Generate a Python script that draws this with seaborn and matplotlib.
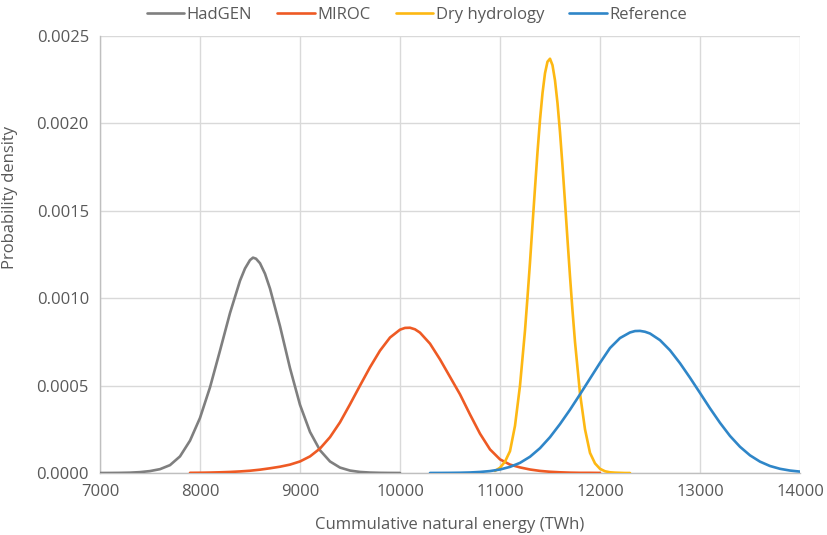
import numpy as np
import pandas as pd
import matplotlib
matplotlib.use("Agg")
import matplotlib.pyplot as plt
from matplotlib.lines import Line2D
import seaborn as sns

# ---- data ----
series_names = ["HadGEN", "MIROC", "Dry hydrology", "Reference"]

hadgen_x = [7000, 7100, 7200, 7300, 7400, 7500, 7600, 7700, 7800, 7900, 8000,
            8100, 8200, 8300, 8400, 8450, 8500, 8530, 8560, 8600, 8650, 8700,
            8800, 8900, 9000, 9100, 9200, 9300, 9400, 9500, 9600, 9700, 9800,
            9900, 10000]
hadgen_y = [0.0, 0.0000003, 0.0000008, 0.000002, 0.000005, 0.000011, 0.000022,
            0.000045, 0.000095, 0.000185, 0.000315, 0.000490, 0.000700, 0.000915,
            0.001100, 0.001170, 0.001218, 0.001232, 0.001226, 0.001200, 0.001140,
            0.001055, 0.000840, 0.000600, 0.000390, 0.000235, 0.000130, 0.000066,
            0.000031, 0.000014, 0.000006, 0.0000025, 0.000001, 0.0000004,
            0.0000002]

miroc_x = [7900, 8000, 8100, 8200, 8300, 8400, 8500, 8600, 8700, 8800, 8900,
           9000, 9100, 9200, 9300, 9400, 9500, 9600, 9700, 9800, 9900, 10000,
           10050, 10100, 10150, 10200, 10300, 10400, 10500, 10600, 10700, 10800,
           10900, 11000, 11100, 11200, 11300, 11400, 11500, 11600, 11700, 11800,
           11900, 12000]
miroc_y = [0.000001, 0.0000015, 0.0000025, 0.000004, 0.000006, 0.000009, 0.000013,
           0.000019, 0.000027, 0.000036, 0.000048, 0.000066, 0.000095, 0.000140,
           0.000205, 0.000290, 0.000393, 0.000500, 0.000605, 0.000700, 0.000775,
           0.000820, 0.000830, 0.000831, 0.000822, 0.000803, 0.000740, 0.000650,
           0.000550, 0.000450, 0.000335, 0.000225, 0.000135, 0.000078, 0.000048,
           0.000032, 0.000020, 0.000012, 0.000007, 0.000004, 0.000002, 0.000001,
           0.000001, 0.0000005]

dry_x = [10950, 11000, 11050, 11100, 11150, 11200, 11250, 11275, 11300, 11325,
         11350, 11375, 11400, 11425, 11450, 11475, 11500, 11525, 11550, 11575,
         11600, 11625, 11650, 11675, 11700, 11725, 11750, 11800, 11850, 11900,
         11950, 12000, 12050, 12100, 12150, 12200, 12250, 12300]
dry_y = [0.000012, 0.000030, 0.000065, 0.000125, 0.000270, 0.000500, 0.000815,
         0.001006, 0.001205, 0.001420, 0.001630, 0.001836, 0.002020, 0.002173,
         0.002287, 0.002353, 0.002370, 0.002333, 0.002246, 0.002116, 0.001950,
         0.001757, 0.001550, 0.001335, 0.001125, 0.000929, 0.000750, 0.000455,
         0.000250, 0.000115, 0.000055, 0.000024, 0.000010, 0.000004, 0.000002,
         0.000001, 0.0, 0.0]

ref_x = [10300, 10400, 10500, 10600, 10700, 10800, 10900, 11000, 11100, 11200,
         11300, 11400, 11500, 11600, 11700, 11800, 11900, 12000, 12100, 12200,
         12300, 12350, 12400, 12450, 12500, 12600, 12700, 12800, 12900, 13000,
         13100, 13200, 13300, 13400, 13500, 13600, 13700, 13800, 13900, 14000]
ref_y = [0.0000002, 0.0000004, 0.0000008, 0.0000015, 0.000003, 0.000006, 0.000011,
         0.000020, 0.000035, 0.000058, 0.000093, 0.000142, 0.000205, 0.000280,
         0.000362, 0.000450, 0.000540, 0.000630, 0.000715, 0.000772, 0.000804,
         0.000812, 0.000813, 0.000808, 0.000798, 0.000760, 0.000702, 0.000628,
         0.000545, 0.000458, 0.000370, 0.000287, 0.000212, 0.000150, 0.000101,
         0.000065, 0.000040, 0.000024, 0.000014, 0.000008]

x_ticks = [7000, 8000, 9000, 10000, 11000, 12000, 13000, 14000]
y_ticks = [0.0, 0.0005, 0.0010, 0.0015, 0.0020, 0.0025]
y_tick_labels = ["0.0000", "0.0005", "0.0010", "0.0015", "0.0020", "0.0025"]
colors = ["#7f7f7f", "#ee5a24", "#fdb813", "#2f86c8"]

# ---- build long table ----
frames = []
for name, xs, ys in zip(series_names,
                        [hadgen_x, miroc_x, dry_x, ref_x],
                        [hadgen_y, miroc_y, dry_y, ref_y]):
    frames.append(pd.DataFrame({"energy": xs, "density": ys, "series": name}))
df = pd.concat(frames, ignore_index=True)

sns.set_style("white")
fams = ["Open Sans", "DejaVu Sans"]
plt.rcParams["font.family"] = fams
text_col = "#595959"

fig = plt.figure(figsize=(8.27, 5.35), dpi=100)
ax = fig.add_axes([100 / 827, 1 - 473 / 535, 700 / 827, 437 / 535])

sns.lineplot(data=df, x="energy", y="density", hue="series",
             hue_order=series_names, palette=colors, linewidth=1.9,
             estimator=None, sort=True, legend=False, ax=ax, zorder=3)
for ln in ax.lines:
    ln.set_solid_joinstyle("round")

ax.set_xlim(7000, 14000)
ax.set_ylim(0, 0.0025)
ax.set_xticks(x_ticks)
ax.set_xticklabels([str(t) for t in x_ticks])
ax.set_yticks(y_ticks)
ax.set_yticklabels(y_tick_labels)
ax.grid(True, color="#d9d9d9", linewidth=1.0, zorder=0)
ax.set_axisbelow(True)
for s in ["top", "right"]:
    ax.spines[s].set_visible(False)
for s in ["left", "bottom"]:
    ax.spines[s].set_color("#bfbfbf")
    ax.spines[s].set_linewidth(1.0)
ax.tick_params(axis="y", length=4, color="#bfbfbf", labelsize=12,
               labelcolor=text_col, pad=4)
ax.tick_params(axis="x", length=0, labelsize=12, labelcolor=text_col, pad=8)

ax.set_xlabel("Cummulative natural energy (TWh)", fontsize=12, color=text_col)
ax.xaxis.set_label_coords(0.5, -0.1)
ax.set_ylabel("Probability density", fontsize=12, color=text_col)
ax.yaxis.set_label_coords(-0.117, 0.63)

handles = [Line2D([0], [0], color=c, lw=1.9) for c in colors]
leg = fig.legend(handles, series_names, loc="center", ncol=4,
                 bbox_to_anchor=(0.504, 0.972), frameon=False,
                 fontsize=12, handlelength=2.25, handletextpad=0.15,
                 columnspacing=1.5)
for t in leg.get_texts():
    t.set_color(text_col)

fig.savefig("out.png", dpi=100)
